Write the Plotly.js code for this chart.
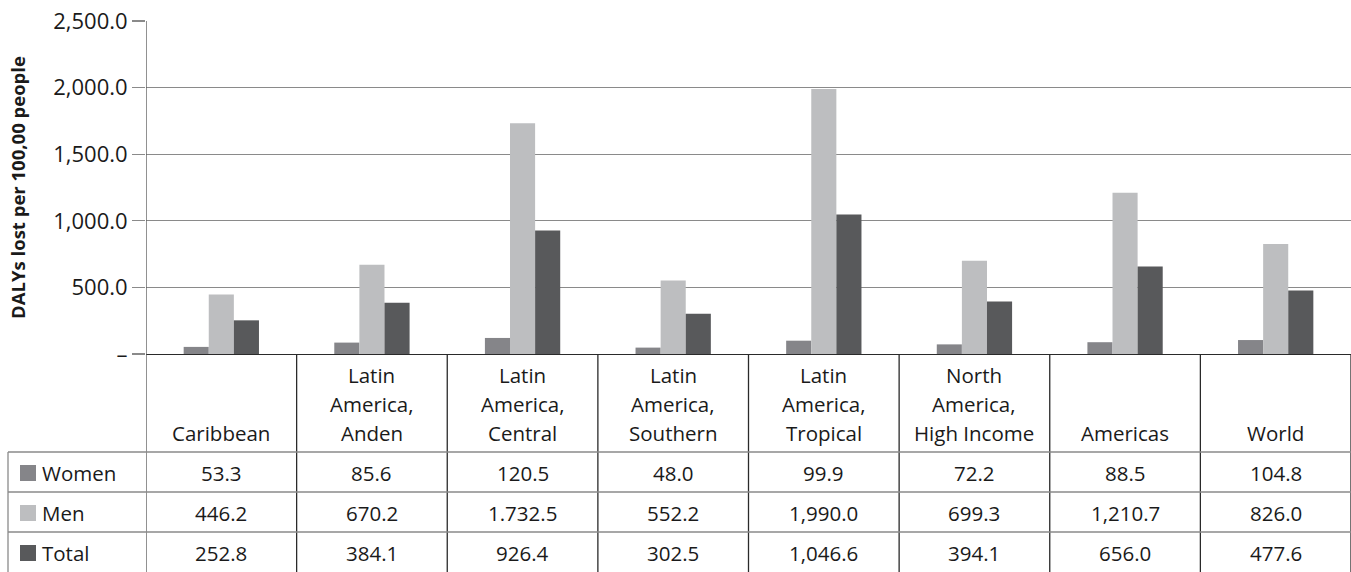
<!DOCTYPE html>
<html>
<head>
<meta charset="utf-8">
<script src="https://cdn.plot.ly/plotly-3.0.1.min.js"></script>
<style>html,body{margin:0;padding:0;background:#fff;}</style>
</head>
<body>
<div id="chart" style="width:1351px;height:572px;"></div>
<script>
// ---- Data ----
const categories = ['Caribbean', 'Latin America, Anden', 'Latin America, Central', 'Latin America, Southern',
  'Latin America, Tropical', 'North America, High Income', 'Americas', 'World'];
const headerLabels = ['Caribbean', 'Latin<br>America,<br>Anden', 'Latin<br>America,<br>Central',
  'Latin<br>America,<br>Southern', 'Latin<br>America,<br>Tropical', 'North<br>America,<br>High Income',
  'Americas', 'World'];
const seriesNames = ['Women', 'Men', 'Total'];
const women = [53.3, 85.6, 120.5, 48.0, 99.9, 72.2, 88.5, 104.8];
const men = [446.2, 670.2, 1732.5, 552.2, 1990.0, 699.3, 1210.7, 826.0];
const total = [252.8, 384.1, 926.4, 302.5, 1046.6, 394.1, 656.0, 477.6];
const womenText = ['53.3', '85.6', '120.5', '48.0', '99.9', '72.2', '88.5', '104.8'];
const menText = ['446.2', '670.2', '1.732.5', '552.2', '1,990.0', '699.3', '1,210.7', '826.0'];
const totalText = ['252.8', '384.1', '926.4', '302.5', '1,046.6', '394.1', '656.0', '477.6'];
const yTickVals = [0, 500, 1000, 1500, 2000, 2500];
const yTickText = ['–', '500.0', '1,000.0', '1,500.0', '2,000.0', '2,500.0'];
const yTitle = 'DALYs lost per 100,00 people';

// ---- Styling ----
const colors = ['#858589', '#bdbec0', '#58595b'];
const FONT = 'Open Sans, Liberation Sans, Arial, sans-serif';
const FS = 20.5;
const W = 1351, H = 572;
const L = 146, T = 21, B = 354, R = 1351;
const px = X => (X - L) / (R - L);
const py = Y => (B - Y) / (B - T);

const valueSets = [women, men, total];
const textSets = [womenText, menText, totalText];

const traces = valueSets.map((vals, i) => ({
  type: 'bar',
  name: seriesNames[i],
  x: categories,
  y: vals,
  marker: {color: colors[i], line: {width: 0}},
  hoverinfo: 'x+y+name'
}));

const shapes = [];
const annotations = [];
const rowTops = [452, 492, 532];
const rowH = 40;
const lineDark = '#2a2a2a';
const lineGray = '#8a8a8a';
const txtColor = '#1a1a1a';

// vertical table lines at category boundaries
for (let k = 0; k <= categories.length; k++) {
  shapes.push({type: 'line', xref: 'x', yref: 'paper', x0: k - 0.5, x1: k - 0.5,
    y0: py(k === 0 ? T : B), y1: py(H), line: {color: k === 0 ? '#555555' : lineDark, width: 1.3}});
}
// left border of label column
shapes.push({type: 'line', xref: 'paper', yref: 'paper', x0: px(8), x1: px(8),
  y0: py(rowTops[0]), y1: py(H), line: {color: lineGray, width: 1.3}});
// horizontal lines
rowTops.forEach(Y => {
  shapes.push({type: 'line', xref: 'paper', yref: 'paper', x0: px(8), x1: 1,
    y0: py(Y), y1: py(Y), line: {color: lineGray, width: 1.3}});
});

// header annotations: one per line, stacked up from the bottom line
const headerLineY = [433, 404, 375];
headerLabels.forEach((lab, k) => {
  const lines = lab.split('<br>');
  lines.forEach((ln, j) => {
    const fromBottom = lines.length - 1 - j;
    annotations.push({xref: 'x', yref: 'paper', x: categories[k], y: py(headerLineY[fromBottom]),
      yanchor: 'middle', xanchor: 'center', text: ln, showarrow: false,
      font: {family: FONT, size: FS, color: txtColor}});
  });
});
// rows
seriesNames.forEach((nm, r) => {
  const yc = rowTops[r] + rowH / 2 + 1;
  shapes.push({type: 'rect', xref: 'paper', yref: 'paper', x0: px(20), x1: px(36),
    y0: py(yc - 8), y1: py(yc + 8), fillcolor: colors[r], line: {width: 0}});
  annotations.push({xref: 'paper', yref: 'paper', x: px(40), y: py(yc), xanchor: 'left', yanchor: 'middle',
    text: nm, showarrow: false, font: {family: FONT, size: FS, color: txtColor}});
  textSets[r].forEach((t, k) => {
    annotations.push({xref: 'x', yref: 'paper', x: categories[k], y: py(yc), xanchor: 'center', yanchor: 'middle',
      text: t, showarrow: false, font: {family: FONT, size: FS, color: txtColor}});
  });
});

const layout = {
  width: W, height: H,
  margin: {l: L, r: W - R, t: T, b: H - B, pad: 0},
  paper_bgcolor: '#ffffff', plot_bgcolor: '#ffffff',
  showlegend: false,
  barmode: 'group', bargap: 0.5, bargroupgap: 0,
  font: {family: FONT, size: FS, color: txtColor},
  xaxis: {type: 'category', range: [-0.5, categories.length - 0.5], showticklabels: false,
    showgrid: false, zeroline: false, showline: true, linecolor: lineDark, linewidth: 1.3, ticks: '', fixedrange: true},
  yaxis: {range: [0, 2500], tickvals: yTickVals, ticktext: yTickText, ticks: 'outside', ticklen: 13,
    tickcolor: lineGray, tickwidth: 1.3, showgrid: true, gridcolor: lineGray, gridwidth: 1.3, zeroline: false,
    showline: false, tickfont: {family: FONT, size: 22, color: txtColor},
    title: {text: yTitle, standoff: 22, font: {family: FONT, size: 18.5, color: txtColor, weight: 'bold'}},
    automargin: false, fixedrange: true},
  shapes: shapes,
  annotations: annotations
};

Plotly.newPlot('chart', traces, layout, {displayModeBar: false, staticPlot: true});
</script>
</body>
</html>
